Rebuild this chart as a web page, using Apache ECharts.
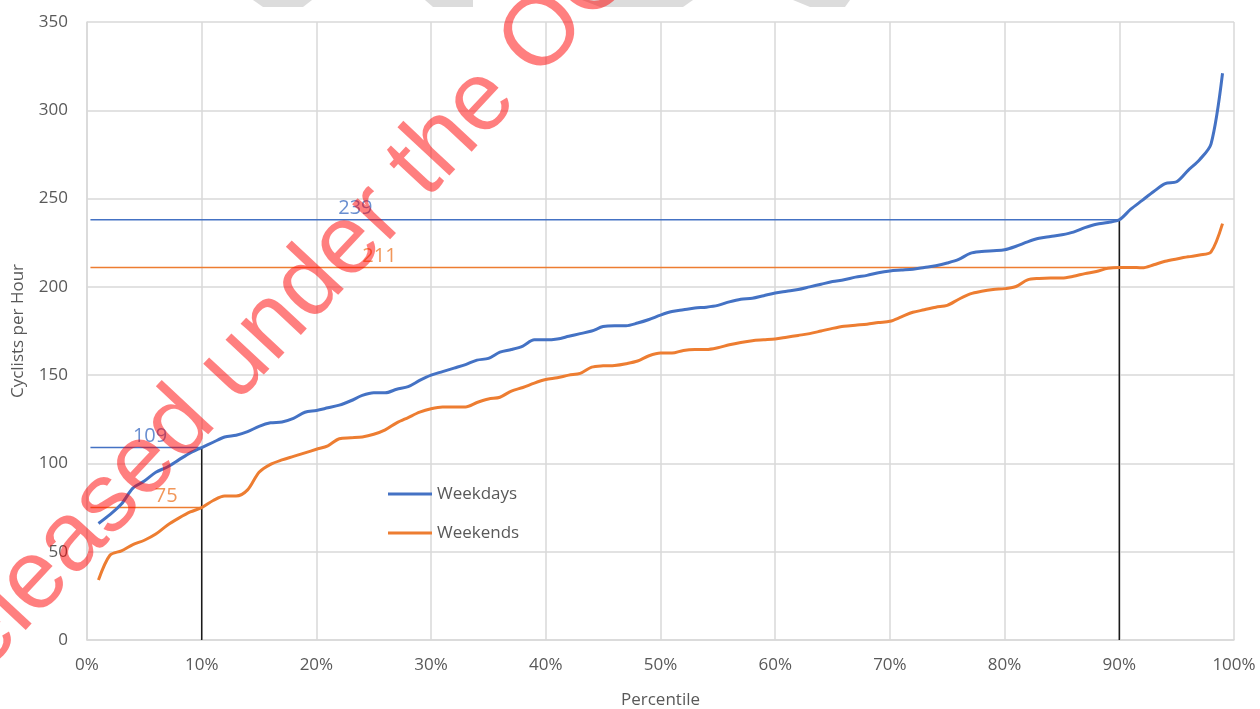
<!DOCTYPE html>
<html>
<head>
<meta charset="utf-8">
<script src="https://cdn.jsdelivr.net/npm/echarts@6/dist/echarts.min.js"></script>
<style>
  html, body { margin: 0; padding: 0; background: #fff; }
  #chart { width: 1260px; height: 709px; }
</style>
</head>
<body>
<div id="chart"></div>
<script>
// percentile curves, 1% .. 99%
const weekdays = [
  66, 71, 77, 86, 90, 95, 98, 102, 106, 109,
  112, 115, 116, 118, 121, 123, 123.5, 125.5, 129, 130,
  131.5, 133, 135.5, 138.5, 140, 140, 142, 143.5, 147, 150,
  152, 154, 156, 158.5, 159.5, 163, 164.5, 166.5, 170, 170,
  170.5, 172, 173.5, 175, 177.5, 178, 178, 179.5, 181.5, 184,
  186, 187, 188, 188.5, 189.5, 191.5, 193, 193.5, 195, 196.5,
  197.5, 198.5, 200, 201.5, 203, 204, 205.5, 206.5, 208, 209,
  209.5, 210, 211, 212, 213.5, 215.5, 219, 220, 220.5, 221,
  223, 225.5, 227.5, 228.5, 229.5, 231, 233.5, 235.5, 236.5, 238,
  244, 249, 254, 258.5, 259.5, 266, 272, 281, 321
]
const weekends = [
  34, 48, 50.5, 54, 56.5, 60, 65, 69, 72.5, 75,
  79, 81.5, 81.5, 85, 95, 99.5, 102, 104, 106, 108,
  110, 114, 114.5, 115, 116.5, 119, 123, 126, 129, 131,
  132, 132, 132, 134.5, 136.5, 137.5, 141, 143, 145.5, 147.5,
  148.5, 150, 151, 154.5, 155.3, 155.5, 156.5, 158, 161, 162.5,
  162.5, 164, 164.5, 164.5, 165.5, 167.2, 168.5, 169.5, 170, 170.5,
  171.5, 172.5, 173.5, 175, 176.5, 177.7, 178.3, 178.8, 179.8, 180.5,
  183, 185.6, 187, 188.5, 189.5, 193, 196, 197.5, 198.5, 199,
  200.2, 204, 204.8, 205, 205, 206, 207.5, 208.7, 210.5, 211,
  211, 210.8, 212.5, 214.5, 215.8, 217, 218, 219.8, 235.8
]
// 10th and 90th percentile markers: [percentile, value]
const weekdayMarks = [[10, 109], [90, 238]]
const weekendMarks = [[10, 75], [90, 211]]
const weekdayMarkLabels = ['109', '239']
const weekendMarkLabels = ['75', '211']

const BLUE = '#4472C4'
const ORANGE = '#ED7D31'
const GRID = '#d9d9d9'
const TEXT = '#595959'
const FONT = '"Open Sans", "Noto Sans", sans-serif'

const toPairs = arr => arr.map((v, i) => [i + 1, v])

// horizontal line from the y axis to the marker, plus its number
const markSeries = (marks, labels, color, labelX) => {
  const out = []
  marks.forEach((m, i) => {
    out.push({
      type: 'line', silent: true, symbol: 'none', z: 2,
      lineStyle: { color: color, width: 1.5 },
      data: [[0.3, m[1]], [m[0], m[1]]]
    })
    out.push({
      type: 'scatter', silent: true, symbolSize: 0, z: 4,
      data: [[labelX[i], m[1]]],
      label: {
        show: true, position: 'inside', offset: [0, -11],
        formatter: labels[i], color: color,
        fontSize: 20, fontFamily: FONT
      }
    })
  })
  return out
}

// black drop lines at 10% and 90%
const dropLines = weekdayMarks.map(m => ({
  type: 'line', silent: true, symbol: 'none', z: 2,
  lineStyle: { color: '#1a1a1a', width: 1.5 },
  data: [[m[0], 0], [m[0], m[1]]]
}))

const chart = echarts.init(document.getElementById('chart'))

chart.setOption({
  animation: false,
  backgroundColor: '#fff',
  grid: { left: 87, right: 26, top: 22, bottom: 69, containLabel: false, outerBoundsMode: 'none' },
  legend: {
    orient: 'vertical',
    left: 388,
    top: 485.5,
    padding: 0,
    icon: 'rect',
    itemWidth: 44,
    itemHeight: 3,
    itemGap: 22,
    data: ['Weekdays', 'Weekends'],
    textStyle: { color: TEXT, fontSize: 17, fontFamily: FONT }
  },
  xAxis: {
    type: 'value',
    min: 0, max: 100, interval: 10,
    name: 'Percentile',
    nameLocation: 'middle',
    nameGap: 52,
    nameTextStyle: { color: TEXT, fontSize: 17, fontFamily: FONT },
    axisLine: { show: true, lineStyle: { color: GRID, width: 1.5 } },
    axisTick: { show: false },
    axisLabel: { formatter: '{value}%', color: TEXT, fontSize: 17, fontFamily: FONT, margin: 17 },
    splitLine: { show: true, lineStyle: { color: GRID, width: 1.5 } }
  },
  yAxis: {
    type: 'value',
    min: 0, max: 350, interval: 50,
    name: 'Cyclists per Hour',
    nameLocation: 'middle',
    nameGap: 60,
    nameTextStyle: { color: TEXT, fontSize: 17, fontFamily: FONT },
    axisLine: { show: true, lineStyle: { color: GRID, width: 1.5 } },
    axisTick: { show: false },
    axisLabel: { color: TEXT, fontSize: 17, fontFamily: FONT, margin: 19 },
    splitLine: { show: true, lineStyle: { color: GRID, width: 1.5 } }
  },
  series: [
    ...markSeries(weekdayMarks, weekdayMarkLabels, BLUE, [5.5, 23.4]),
    ...markSeries(weekendMarks, weekendMarkLabels, ORANGE, [6.9, 25.5]),
    ...dropLines,
    {
      name: 'Weekdays', type: 'line', smooth: 0.3, symbol: 'none', z: 3,
      color: BLUE, lineStyle: { color: BLUE, width: 3 },
      data: toPairs(weekdays)
    },
    {
      name: 'Weekends', type: 'line', smooth: 0.3, symbol: 'none', z: 3,
      color: ORANGE, lineStyle: { color: ORANGE, width: 3 },
      data: toPairs(weekends)
    }
  ],
  graphic: [
    // grey shapes peeking in at the top edge
    { type: 'polygon', z: 0, shape: { points: [[253, 0], [312, 0], [303, 7], [263, 7]] }, style: { fill: '#dcdcdc' } },
    { type: 'polygon', z: 0, shape: { points: [[425, 0], [473, 0], [473, 7], [433, 7]] }, style: { fill: '#dcdcdc' } },
    { type: 'polygon', z: 0, shape: { points: [[582, 0], [693, 0], [683, 7], [600, 7]] }, style: { fill: '#dcdcdc' } },
    { type: 'polygon', z: 0, shape: { points: [[793, 0], [850, 0], [845, 7], [810, 7]] }, style: { fill: '#dcdcdc' } },
    // watermark
    {
      type: 'text', z: 100,
      x: -84, y: 708,
      rotation: 47 * Math.PI / 180,
      style: {
        text: 'Released under the OGL',
        font: '98px "Liberation Sans", Arial, sans-serif',
        fill: 'rgba(255, 0, 0, 0.5)',
        align: 'left',
        verticalAlign: 'middle'
      }
    }
  ]
})
</script>
</body>
</html>
